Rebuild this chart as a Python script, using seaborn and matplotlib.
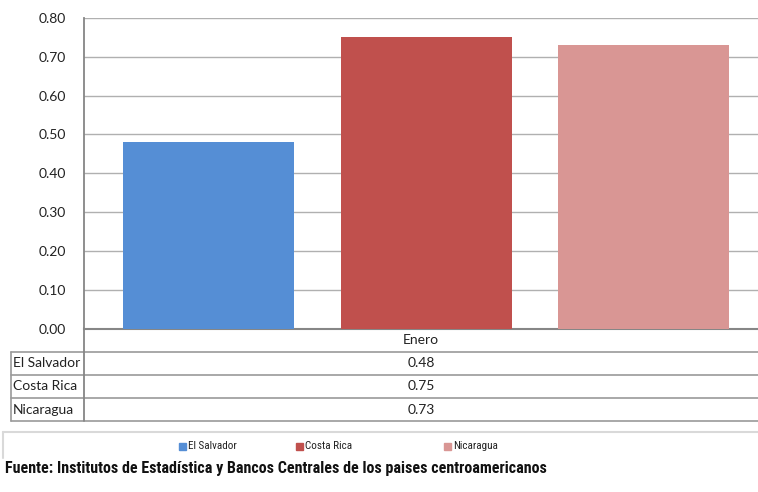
import numpy as np
import pandas as pd
import seaborn as sns
import matplotlib.pyplot as plt
from matplotlib import font_manager
from matplotlib.patches import Rectangle

# data
paises = ["El Salvador", "Costa Rica", "Nicaragua"]
valores = [0.48, 0.75, 0.73]
mes = "Enero"
colores = ["#558ED5", "#C0504D", "#D99694"]
fuente = "Fuente: Institutos de Estadística y Bancos Centrales de los paises centroamericanos"

W, H = 758, 492
sns.set_style("white")
plt.rcParams['font.family'] = ['Lato', 'DejaVu Sans']

# narrow font for the source line and legend, if one is installed
installed = {f.name for f in font_manager.fontManager.ttflist}
narrow = [n for n in ["Roboto Condensed", "Liberation Sans Narrow", "DejaVu Sans Condensed",
                      "Open Sans Condensed", "Noto Sans Condensed"] if n in installed]
narrow_family = (narrow[:1] or ["Liberation Sans"]) + ["DejaVu Sans"]

fig = plt.figure(figsize=(W / 100, H / 100), dpi=100)

def fx(px):
    return px / W

def fy(py):
    return 1 - py / H

# main bar axes
top, bottom, left, right = 18, 328.5, 84, 758
ax = fig.add_axes([fx(left), fy(bottom), fx(right) - fx(left), fy(top) - fy(bottom)])
df = pd.DataFrame({"pais": paises, "valor": valores})
sns.barplot(data=df, x="pais", y="valor", hue="pais", palette=colores,
            width=0.786, saturation=1, legend=False, ax=ax, zorder=3, linewidth=0)
ax.set_xlim(-0.572, 2.526)
ax.set_ylim(0, 0.8)
ticks = np.arange(0, 0.81, 0.1)
ax.set_yticks(ticks)
ax.set_yticklabels([f"{v:.2f}" for v in ticks], fontsize=10)
ax.set_xticks([])
ax.set_xlabel("")
ax.set_ylabel("")
ax.grid(axis="y", color="#b0b0b0", linewidth=1, zorder=0)
for s in ["top", "right"]:
    ax.spines[s].set_visible(False)
ax.spines["left"].set_color("#868686")
ax.spines["left"].set_linewidth(1.3)
ax.spines["bottom"].set_color("#868686")
ax.spines["bottom"].set_linewidth(1.5)
ax.tick_params(axis="y", length=4, color="#868686", pad=9, labelcolor="#222222")

# data table below
tab = fig.add_axes([0, 0, 1, 1], zorder=-1)
tab.set_xlim(0, W)
tab.set_ylim(H, 0)
tab.axis("off")
lines_y = [352, 374.7, 398, 421]
for y in lines_y:
    tab.plot([11, W], [y, y], color="#9a9a9a", linewidth=1.2)
tab.plot([84, 84], [328, 421], color="#868686", linewidth=1.3)
tab.plot([11, 11], [352, 421], color="#9a9a9a", linewidth=1.2)
tab.text((84 + W) / 2, 340.5, mes, ha="center", va="center", fontsize=10, color="#222222")
for i, (p, v) in enumerate(zip(paises, valores)):
    yc = (lines_y[i] + lines_y[i + 1]) / 2
    tab.text(13, yc, p, ha="left", va="center", fontsize=10, color="#222222")
    tab.text((84 + W) / 2, yc, f"{v:.2f}", ha="center", va="center", fontsize=10, color="#222222")

# legend box
tab.plot([3, W], [432, 432], color="#d9d9d9", linewidth=1.5)
tab.plot([3, 3], [432, 458], color="#d9d9d9", linewidth=1.5)
leg_x = [179, 296, 444]
for xx, p, c in zip(leg_x, paises, colores):
    tab.add_patch(Rectangle((xx, 442.5), 7, 7, color=c))
    tab.text(xx + 9, 446, p, ha="left", va="center", fontsize=8, family=narrow_family,
             color="#222222")

# source line, sized so it spans the same width as in the reference
t = tab.text(5, 468, fuente, ha="left", va="center", fontsize=12, fontweight="bold",
             family=narrow_family, color="#111111")
fig.canvas.draw()
w = t.get_window_extent().width
t.set_fontsize(12 * 543 / w)

fig.savefig("out.png", dpi=100)
